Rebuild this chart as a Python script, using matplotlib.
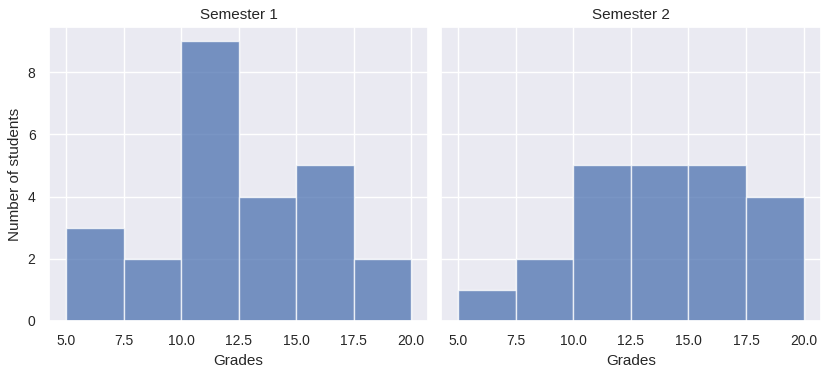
import matplotlib
matplotlib.use("Agg")
import matplotlib.pyplot as plt
import seaborn as sns
import numpy as np

sns.set_theme(style="darkgrid")
plt.rcParams['font.family'] = ['Liberation Sans', 'DejaVu Sans']

bin_edges = [5.0, 7.5, 10.0, 12.5, 15.0, 17.5, 20.0]
sem1_counts = [3, 2, 9, 4, 5, 2]
sem2_counts = [1, 2, 5, 5, 5, 4]
titles = ["Semester 1", "Semester 2"]
xticks = [5.0, 7.5, 10.0, 12.5, 15.0, 17.5, 20.0]
yticks = [0, 2, 4, 6, 8]

W, H = 831, 374
fig = plt.figure(figsize=(W/100, H/100), dpi=100)
ax_pos = [(48.75, 428.25), (440.75, 821.0)]
top, bottom = 27, 321
axes = []
for i, (x0, x1) in enumerate(ax_pos):
    ax = fig.add_axes([x0/W, 1-bottom/H, (x1-x0)/W, (bottom-top)/H],
                      sharey=axes[0] if axes else None)
    axes.append(ax)

for ax, counts, title in zip(axes, [sem1_counts, sem2_counts], titles):
    edges = np.array(bin_edges)
    ax.bar(edges[:-1], counts, width=np.diff(edges), align='edge',
           color='#4C72B0', alpha=0.75, edgecolor='white', linewidth=1)
    ax.set_title(title, fontsize=11)
    ax.set_xticks(xticks)
    ax.set_xticklabels([f"{t:.1f}" for t in xticks])
    ax.set_xlim(4.25, 20.75)
    ax.set_ylim(0, 9.45)
    ax.set_xlabel("Grades", fontsize=11)
    ax.set_yticks(yticks)
    ax.tick_params(labelsize=10)

axes[0].set_ylabel("Number of students", fontsize=11)
axes[1].tick_params(labelleft=False)

fig.savefig("out.png", dpi=100)
